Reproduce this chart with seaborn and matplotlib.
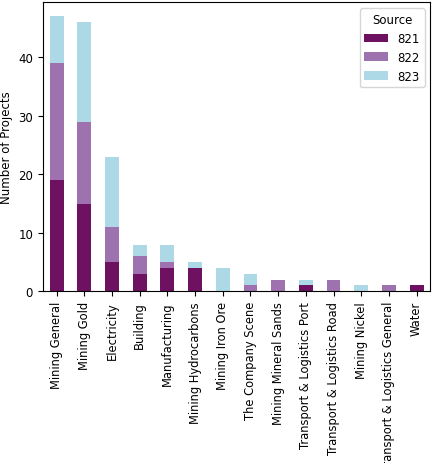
import matplotlib
matplotlib.use("Agg")
import matplotlib.pyplot as plt
import seaborn as sns
import numpy as np

categories = ["Mining General", "Mining Gold", "Electricity", "Building", "Manufacturing",
              "Mining Hydrocarbons", "Mining Iron Ore", "The Company Scene", "Mining Mineral Sands",
              "Transport & Logistics Port", "Transport & Logistics Road", "Mining Nickel",
              "Transport & Logistics General", "Water"]
s821 = [19, 15, 5, 3, 4, 4, 0, 0, 0, 1, 0, 0, 0, 1]
s822 = [20, 14, 6, 3, 1, 0, 0, 1, 2, 0, 2, 0, 1, 0]
s823 = [8, 17, 12, 2, 3, 1, 4, 2, 0, 1, 0, 1, 0, 0]
series = {"821": s821, "822": s822, "823": s823}
colors = {"821": "#6d1160", "822": "#9e72ae", "823": "#add8e6"}

fig = plt.figure(figsize=(4.37, 4.64), dpi=100)
ax = fig.add_axes([0.098, 0.37, 0.887, 0.623])
bottom = np.zeros(len(categories))
for name, vals in series.items():
    sns.barplot(x=categories, y=vals, ax=ax, color=colors[name], bottom=bottom,
                width=0.5, label=name, saturation=1)
    bottom += np.array(vals)
ax.set_ylabel("Number of Projects", fontsize=8.5)
ax.tick_params(axis="y", labelsize=8.5)
ax.tick_params(axis="x", labelsize=8.3, rotation=90)
ax.set_xlim(-0.5, len(categories) - 0.5)
ax.set_ylim(0, 49.4)
ax.legend(title="Source", fontsize=8.5, title_fontsize=8.5, loc="upper right")
fig.savefig("out.png", dpi=100)
